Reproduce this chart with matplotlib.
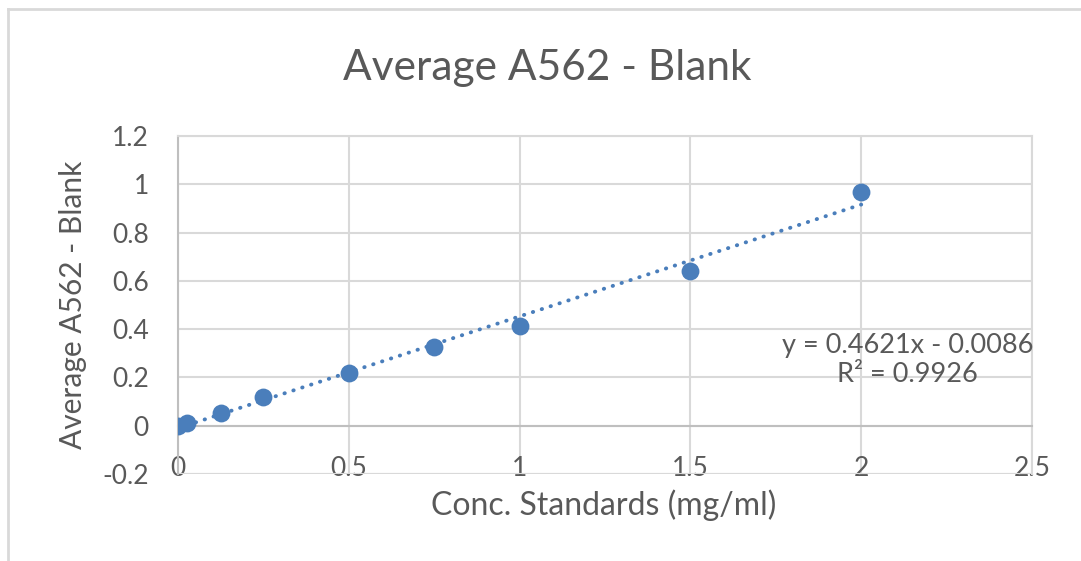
import numpy as np
import matplotlib.pyplot as plt
from matplotlib.lines import Line2D

plt.rcParams['font.family'] = ['Lato', 'DejaVu Sans']

# Standards (mg/ml) and blank-corrected absorbance
conc = [0, 0.025, 0.125, 0.25, 0.5, 0.75, 1, 1.5, 2]
absorb = [0.0, 0.01, 0.054, 0.12, 0.22, 0.327, 0.414, 0.642, 0.969]
x_ticks = [0, 0.5, 1, 1.5, 2, 2.5]
y_ticks = [-0.2, 0, 0.2, 0.4, 0.6, 0.8, 1, 1.2]
x_tick_labels = ["0", "0.5", "1", "1.5", "2", "2.5"]
y_tick_labels = ["-0.2", "0", "0.2", "0.4", "0.6", "0.8", "1", "1.2"]
eq_text = "y = 0.4621x - 0.0086\nR² = 0.9926"

text_col = "#595959"
grid_col = "#d9d9d9"
axis_col = "#bfbfbf"
blue = "#4a7ebb"

fig = plt.figure(figsize=(10.81, 5.61), dpi=100)
ax = fig.add_axes([178 / 1081, 1 - 474 / 561, 854 / 1081, 338 / 561])

# linear trendline
coef = np.polyfit(conc, absorb, 1)
xs = np.array([min(conc), max(conc)])
ax.plot(xs, np.polyval(coef, xs), color=blue, lw=2.8,
        linestyle=(0, (0.1, 2.3)), dash_capstyle="round", zorder=3)
ax.scatter(conc, absorb, s=165, color=blue, zorder=4, linewidths=0)

ax.set_xlim(0, 2.5)
ax.set_ylim(-0.2, 1.2)
ax.set_xticks(x_ticks, x_tick_labels)
ax.set_yticks(y_ticks, y_tick_labels)
ax.grid(True, color=grid_col, lw=1.5, zorder=0)
ax.set_axisbelow(True)

for side in ["top", "right"]:
    ax.spines[side].set_color(grid_col)
    ax.spines[side].set_linewidth(1.5)
ax.spines["bottom"].set_position(("data", 0))
ax.spines["bottom"].set_color(axis_col)
ax.spines["bottom"].set_linewidth(1.5)
ax.spines["left"].set_color(axis_col)
ax.spines["left"].set_linewidth(1.5)
ax.tick_params(axis="x", length=0, pad=22, labelsize=19, labelcolor=text_col)
ax.tick_params(axis="y", length=0, pad=21, labelsize=19, labelcolor=text_col)
# bottom gridline at -0.2
ax.axhline(-0.2, color=grid_col, lw=1.5, zorder=0)

ax.text(0.854, 0.337, eq_text, transform=ax.transAxes, ha="center",
        va="center", fontsize=19.5, color=text_col, linespacing=1.2)

fig.text(547 / 1081, 1 - 68 / 561, "Average A562 - Blank", ha="center",
         va="center", fontsize=30.5, color=text_col)
fig.text(604 / 1081, 1 - 505 / 561, "Conc. Standards (mg/ml)", ha="center",
         va="center", fontsize=23, color=text_col)
fig.text(73 / 1081, 1 - 305 / 561, "Average A562 - Blank", ha="center",
         va="center", rotation=90, fontsize=21.5, color=text_col)

# chart border (top and left visible)
fig.add_artist(Line2D([8 / 1081, 1], [1 - 9 / 561, 1 - 9 / 561],
                      color=grid_col, lw=2, transform=fig.transFigure))
fig.add_artist(Line2D([8 / 1081, 8 / 1081], [0, 1 - 9 / 561],
                      color=grid_col, lw=2, transform=fig.transFigure))

fig.savefig("out.png", dpi=100)
